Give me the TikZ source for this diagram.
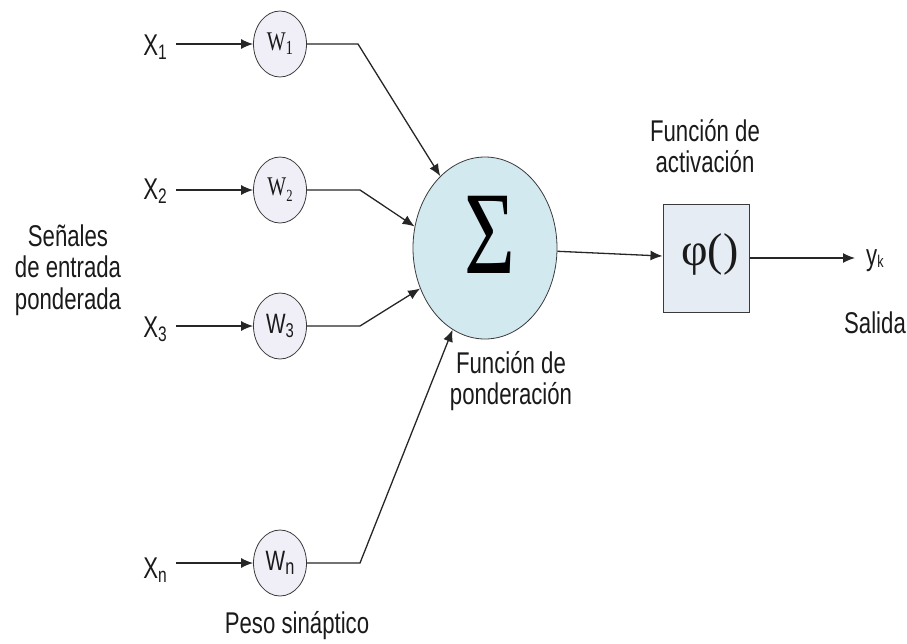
\documentclass[tikz,border=0pt]{standalone}
\usepackage{fontspec}
\setmainfont{Liberation Sans}[FakeStretch=0.74]
\newfontfamily\serifnarrow{Liberation Serif}[FakeStretch=0.74]
\newfontfamily\serifwide{Liberation Serif}
\usetikzlibrary{shapes.geometric,arrows.meta}
\newcommand{\sbs}[3][3pt]{\raisebox{-#1}{\fontsize{#2}{#2}\selectfont #3}}
\definecolor{txt}{HTML}{1A1A1A}
\definecolor{linec}{HTML}{262626}
\definecolor{edge}{HTML}{3A3A3A}
\definecolor{wfill}{HTML}{F0EEF7}
\definecolor{sumfill}{HTML}{D2E9F0}
\definecolor{boxfill}{HTML}{E6ECF4}
\begin{document}
\begin{tikzpicture}[x=1pt,y=-1pt,
  lbl/.style={font=\fontsize{30}{31.5}\selectfont, text=txt, inner sep=0},
  wnode/.style={ellipse, draw=edge, fill=wfill, line width=0.8pt, minimum width=53pt, minimum height=66pt, inner sep=0, text=txt},
  conn/.style={draw=linec, line width=1.3pt},
  arr/.style={conn, -{Latex[length=12pt,width=10pt]}},
]
\useasboundingbox (0,0) rectangle (907,643);

% weight nodes
\node[wnode] (w1) at (280,44) {\serifnarrow\fontsize{27}{27}\selectfont W\sbs[4pt]{20}{1}};
\node[wnode] (w2) at (280,190) {\serifnarrow\fontsize{27}{27}\selectfont W\sbs[6pt]{17}{2}};
\node[wnode] (w3) at (280,326) {\fontsize{28}{28}\selectfont W\sbs[4pt]{20}{3}};
\node[wnode] (wn) at (280,563) {\fontsize{28}{28}\selectfont W\sbs[4pt]{22}{n}};

% input labels
\node[lbl, anchor=base] (x1) at (155,55) {X\sbs[4pt]{21}{1}};
\node[lbl, anchor=base] (x2) at (155,199) {X\sbs[4pt]{21}{2}};
\node[lbl, anchor=base] (x3) at (155,337) {X\sbs[4pt]{21}{3}};
\node[lbl, anchor=base] (xn) at (155,578) {X\sbs[4pt]{21}{n}};

% summation
\node[ellipse, draw=edge, fill=sumfill, line width=0.8pt, minimum width=144pt, minimum height=182pt, inner sep=0] (sum) at (485,248) {};
\node[font=\serifnarrow\fontsize{118}{118}\selectfont, text=black, inner sep=0] (sigma) at (490,235) {Σ};

% activation box
\node[draw=edge, fill=boxfill, line width=1pt, minimum width=86pt, minimum height=108pt, inner sep=0] (phi) at (706,258) {};
\node[font=\serifwide\fontsize{46}{46}\selectfont, text=txt, inner sep=0] (phitext) at (710,254) {φ()};

% output
\coordinate (yout) at (855,258);
\node[lbl, anchor=base west] (yk) at (866,265) {y\sbs[2pt]{17}{k}};

% texts
\node[lbl, align=center] (act) at (705,146) {Función de\\activación};
\node[lbl, align=center] (pond) at (511,381) {Función de\\ponderación};
\node[lbl, align=center] (sen) at (68,270) {Señales\\de entrada\\ponderada};
\node[lbl, anchor=base] (sal) at (875,333) {Salida};
\node[lbl, anchor=base] (peso) at (297,633) {Peso sináptico};

% bend points
\coordinate (b1) at (358,44);
\coordinate (b2) at (360,190);
\coordinate (b3) at (360,326);
\coordinate (bn) at (360,563);

% input arrows
\draw[arr, shorten <=9pt] (x1.east |- w1.west) -- (w1.west);
\draw[arr, shorten <=9pt] (x2.east |- w2.west) -- (w2.west);
\draw[arr, shorten <=9pt] (x3.east |- w3.west) -- (w3.west);
\draw[arr, shorten <=9pt] (xn.east |- wn.west) -- (wn.west);

% weighted lines to sum
\draw[arr] (w1.east) -- (b1) -- (sum);
\draw[arr] (w2.east) -- (b2) -- (sum.163);
\draw[arr] (w3.east) -- (b3) -- (sum);
\draw[arr] (wn.east) -- (bn) -- (sum);

% sum to activation, output
\draw[arr] (sum) -- (phi);
\draw[arr] (phi) -- (yout);
\end{tikzpicture}
\end{document}
